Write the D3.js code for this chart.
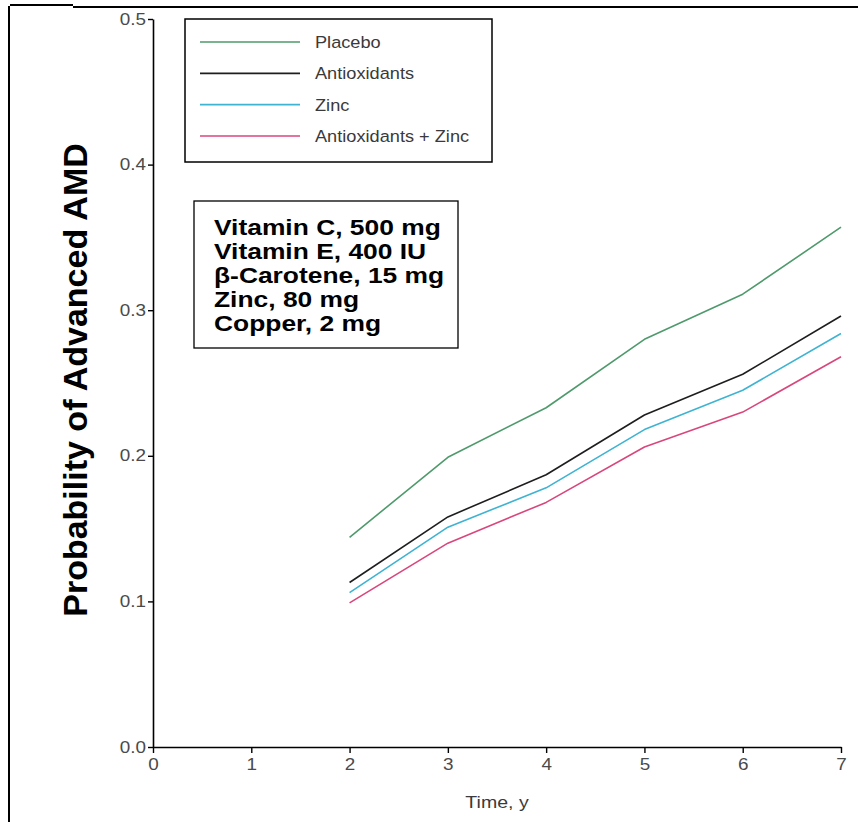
<!DOCTYPE html>
<html><head><meta charset="utf-8">
<script src="https://cdn.jsdelivr.net/npm/d3@7"></script>
<style>
html,body{margin:0;padding:0;background:#fff;}
svg{display:block;}
</style></head>
<body>
<script>
const years = [2, 3, 4, 5, 6, 7];
const placebo = [0.144, 0.199, 0.233, 0.280, 0.311, 0.357];
const antioxidants = [0.113, 0.158, 0.187, 0.228, 0.256, 0.296];
const zinc = [0.106, 0.151, 0.178, 0.218, 0.245, 0.284];
const antioxZinc = [0.099, 0.140, 0.168, 0.206, 0.230, 0.268];
const seriesNames = ["Placebo", "Antioxidants", "Zinc", "Antioxidants + Zinc"];
const seriesColors = ["#4f9a6c", "#1e1e1e", "#3eb3d2", "#d9467c"];
const xTicks = [0, 1, 2, 3, 4, 5, 6, 7];
const yTicks = [0.0, 0.1, 0.2, 0.3, 0.4, 0.5];
const boxLines = ["Vitamin C, 500 mg", "Vitamin E, 400 IU", "\u03B2-Carotene, 15 mg", "Zinc, 80 mg", "Copper, 2 mg"];
const xTitle = "Time, y";
const yTitle = "Probability of Advanced AMD";

const W = 858, H = 822;
const svg = d3.select("body").append("svg").attr("width", W).attr("height", H);

// page frame
svg.append("line").attr("x1", 10).attr("x2", 73).attr("y1", 5).attr("y2", 5).attr("stroke", "#000").attr("stroke-width", 2);
svg.append("line").attr("x1", 73).attr("x2", W).attr("y1", 7).attr("y2", 7).attr("stroke", "#000").attr("stroke-width", 2);
svg.append("line").attr("x1", 9).attr("x2", 9).attr("y1", 6).attr("y2", H).attr("stroke", "#000").attr("stroke-width", 2);

const x = d3.scaleLinear().domain([0, 7]).range([153, 841]);
const y = d3.scaleLinear().domain([0, 0.5]).range([747, 19]);

const tickFont = "'Liberation Sans', Arial, sans-serif";
const sx = 1.18;

const gx = svg.append("g").attr("transform", `translate(0,${y(0)})`)
  .call(d3.axisBottom(x).tickValues(xTicks).tickFormat(d3.format("d")).tickSize(6).tickSizeOuter(0));
const gy = svg.append("g").attr("transform", `translate(${x(0)},0)`)
  .call(d3.axisLeft(y).tickValues(yTicks).tickFormat(d3.format(".1f")).tickSize(5).tickSizeOuter(0));
[gx, gy].forEach(g => {
  g.select(".domain").attr("stroke", "#000").attr("stroke-width", 1.6);
  g.selectAll(".tick line").attr("stroke", "#000").attr("stroke-width", 1.4);
  g.selectAll(".tick text").attr("font-family", tickFont).attr("font-size", 16).attr("fill", "#4a4a4a");
});
gx.selectAll(".tick text").attr("y", 12).attr("transform", `scale(${sx},1)`);
gy.selectAll(".tick text").attr("x", -6).attr("transform", `scale(${sx},1)`);

// axis titles
svg.append("text").attr("transform", `translate(${x(3.5)},808) scale(1.15,1)`)
  .attr("text-anchor", "middle").attr("font-family", tickFont).attr("font-size", 17).attr("fill", "#3a3a3a").text(xTitle);
svg.append("text").attr("transform", `translate(87,380) rotate(-90)`)
  .attr("text-anchor", "middle").attr("font-family", "'Liberation Sans', Arial, sans-serif")
  .attr("font-weight", "bold").attr("font-size", 34).attr("fill", "#000").text(yTitle);

// lines
const allSeries = [placebo, antioxidants, zinc, antioxZinc];
const line = d3.line().x((d, i) => x(years[i])).y(d => y(d));
allSeries.forEach((s, k) => {
  svg.append("path").datum(s).attr("d", line).attr("fill", "none")
    .attr("stroke", seriesColors[k]).attr("stroke-width", 1.6).attr("stroke-linejoin", "round");
});

// legend
svg.append("rect").attr("x", 185).attr("y", 19).attr("width", 307).attr("height", 143)
  .attr("fill", "#fff").attr("stroke", "#000").attr("stroke-width", 1.5);
const legY = d3.scalePoint().domain(seriesNames).range([42, 136]);
seriesNames.forEach((n, k) => {
  svg.append("line").attr("x1", 200).attr("x2", 300).attr("y1", legY(n)).attr("y2", legY(n))
    .attr("stroke", seriesColors[k]).attr("stroke-width", 1.6);
  svg.append("text").attr("transform", `translate(315,${legY(n) + 6}) scale(1.07,1)`)
    .attr("font-family", tickFont).attr("font-size", 17).attr("fill", "#3a3a3a").text(n);
});

// composition box
svg.append("rect").attr("x", 194).attr("y", 201).attr("width", 264).attr("height", 147)
  .attr("fill", "#fff").attr("stroke", "#000").attr("stroke-width", 1.3);
const boxY = d3.scalePoint().domain(boxLines).range([235, 331]);
boxLines.forEach(t => {
  svg.append("text").attr("transform", `translate(214,${boxY(t)}) scale(1.2,1)`)
    .attr("font-family", "'Liberation Sans', Arial, sans-serif").attr("font-weight", "bold")
    .attr("font-size", 22).attr("fill", "#000").text(t);
});
</script>
</body></html>
